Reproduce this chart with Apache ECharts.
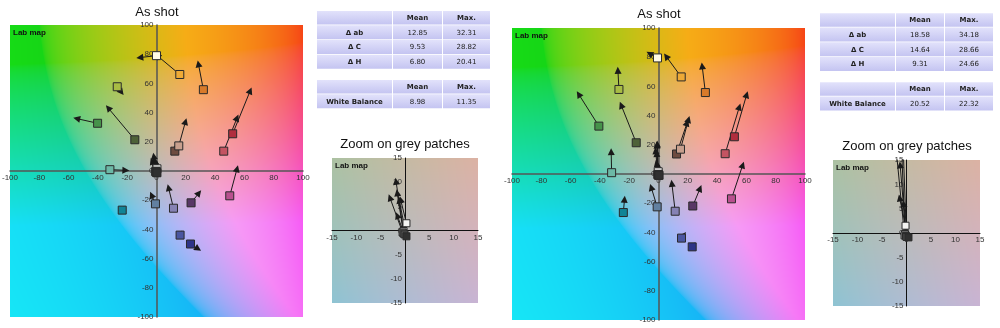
<!DOCTYPE html>
<html>
<head>
<meta charset="utf-8">
<script src="https://cdn.jsdelivr.net/npm/echarts@6/dist/echarts.min.js"></script>
<style>
html,body{margin:0;padding:0;background:#fff;}
#chart{width:1000px;height:328px;}
</style>
</head>
<body>
<div id="chart"></div>
<script>
// ColorChecker patches: names and display colours of the squares
const patchNames = ['Dark skin','Light skin','Blue sky','Foliage','Blue flower','Bluish green',
  'Orange','Purplish blue','Moderate red','Purple','Yellow green','Orange yellow',
  'Blue','Green','Red','Yellow','Magenta','Cyan',
  'White','Neutral 8','Neutral 6.5','Neutral 5','Neutral 3.5','Black'];
const patchColors = ['#6e4c40','#c8a08e','#6280a0','#4e6238','#8682b4','#6cb8a6',
  '#d87a2a','#4a56a0','#c45462','#583866','#a8bc44','#eeaa36',
  '#2e3488','#46924a','#b02e3e','#fffbe6','#b8508e','#108496',
  '#f4f4f2','#c6c6c6','#9e9e9e','#787878','#525252','#303030'];

// Left panel (a*, b*) of the shot patches and of the arrow targets
const leftA    = [12.5, 15.2, -0.7, -14.8, 11.6, -31.8, 32.0, 16.1, 45.9, 23.6, -26.8, 15.9, 23.2, -40.2, 52.0, 0.0, 50.0, -23.4, 0.3, -0.3, -0.5, -0.3, -0.1, 0.3];
const leftB    = [13.6, 17.2, -22.5, 21.4, -25.5, 0.9, 55.7, -43.9, 13.6, -21.8, 57.7, 66.1, -50.0, 32.7, 25.5, 79.0, -17.0, -26.8, 1.5, -0.1, -0.4, -0.6, -0.8, -1.2];
const leftRefA = [15.0, 19.8, -3.4, -33.0, 8.2, -20.9, 28.6, 16.5, 55.0, 29.0, -23.9, 0.5, 28.4, -54.5, 64.0, -11.4, 55.0, -23.0, -0.9, -1.85, -3.1, -1.6, -1.6, -1.2];
const leftRefB = [17.5, 33.9, -16.4, 43.2, -11.4, 0.5, 73.4, -43.0, 36.4, -15.0, 53.9, 79.0, -53.4, 35.9, 55.0, 77.7, 1.6, -26.0, 6.4, 10.2, 6.8, 7.8, 3.1, 6.3];

// Right panel (a*, b*) of the shot patches and of the arrow targets
const rightA    = [12.3, 15.0, -0.9, -15.2, 11.4, -32.0, 32.0, 15.7, 45.5, 23.4, -27.0, 15.5, 23.0, -40.7, 51.8, -0.7, 49.8, -24.0, -0.2, -0.3, -0.4, -0.1, 0.0, 0.4];
const rightB    = [13.7, 17.0, -22.5, 21.4, -25.5, 0.9, 55.8, -43.9, 13.9, -21.9, 57.9, 66.5, -49.9, 32.8, 25.5, 79.5, -17.0, -26.4, 1.5, -0.2, -0.5, -0.6, -0.8, -0.9];
const rightRefA = [19.5, 20.5, -5.0, -25.5, 9.1, -32.3, 29.8, 17.3, 55.2, 28.4, -27.7, 5.2, 23.5, -54.5, 60.2, -6.1, 57.5, -23.2, -1.4, -1.1, -2.0, -1.3, -0.8, -0.6];
const rightRefB = [35.0, 37.4, -9.1, 47.2, -6.4, 15.3, 74.0, -41.7, 46.0, -9.8, 71.0, 80.6, -49.0, 54.7, 54.4, 82.5, 6.2, -17.3, 7.2, 19.8, 16.0, 14.0, 20.5, 6.0];

// Index of the first grey patch
const greyStart = 18;

// Statistics tables
const statCols = ['Mean', 'Max.'];
const deltaRows = ['Δ ab', 'Δ C', 'Δ H'];
const wbRow = 'White Balance';
const leftDeltaMean = [12.85, 9.53, 6.80];
const leftDeltaMax  = [32.31, 28.82, 20.41];
const leftWB        = [8.98, 11.35];
const rightDeltaMean = [18.58, 14.64, 9.31];
const rightDeltaMax  = [34.18, 28.66, 24.66];
const rightWB        = [20.52, 22.32];

const titleMain = 'As shot';
const titleZoom = 'Zoom on grey patches';
const mapLabel = 'Lab map';

// Lab to sRGB, clipped and slightly softened, for the background map
function labToRgb(L, a, b) {
  const fy = (L + 16) / 116, fx = fy + a / 500, fz = fy - b / 200;
  const d = 6 / 29;
  const inv = t => t > d ? t * t * t : 3 * d * d * (t - 4 / 29);
  const X = 0.95047 * inv(fx), Y = inv(fy), Z = 1.08883 * inv(fz);
  let r = 3.2406 * X - 1.5372 * Y - 0.4986 * Z;
  let g = -0.9689 * X + 1.8758 * Y + 0.0415 * Z;
  let bb = 0.0557 * X - 0.2040 * Y + 1.0570 * Z;
  const gam = v => {
    v = Math.max(0, Math.min(1, v));
    return v <= 0.0031308 ? 12.92 * v : 1.055 * Math.pow(v, 1 / 2.4) - 0.055;
  };
  const grey = 0.72, mix = 0.12;
  return [r, g, bb].map(v => ((1 - mix) * gam(v) + mix * grey) * 255);
}

function labMap(w, h, range, L) {
  const c = document.createElement('canvas');
  c.width = w; c.height = h;
  const ctx = c.getContext('2d');
  const img = ctx.createImageData(w, h);
  for (let y = 0; y < h; y++) {
    for (let x = 0; x < w; x++) {
      const a = -range + (x + 0.5) / w * 2 * range;
      const b = range - (y + 0.5) / h * 2 * range;
      const rgb = labToRgb(L, a, b);
      const i = (y * w + x) * 4;
      img.data[i] = rgb[0]; img.data[i + 1] = rgb[1]; img.data[i + 2] = rgb[2]; img.data[i + 3] = 255;
    }
  }
  ctx.putImageData(img, 0, 0);
  return c;
}

const panels = [
  { grid: { left: 10, top: 25, width: 293, height: 292 }, range: 100, step: 20, A: leftA, B: leftB, RA: leftRefA, RB: leftRefB, from: 0, sym: 8, main: true },
  { grid: { left: 512, top: 28, width: 293, height: 292 }, range: 100, step: 20, A: rightA, B: rightB, RA: rightRefA, RB: rightRefB, from: 0, sym: 8, main: true },
  { grid: { left: 332, top: 158, width: 146, height: 145 }, range: 15, step: 5, A: leftA, B: leftB, RA: leftRefA, RB: leftRefB, from: greyStart, sym: 7, main: false },
  { grid: { left: 833, top: 160, width: 147, height: 146 }, range: 15, step: 5, A: rightA, B: rightB, RA: rightRefA, RB: rightRefB, from: greyStart, sym: 7, main: false }
];

const grids = [], xAxes = [], yAxes = [], series = [], graphics = [];
const labelFont = { fontFamily: 'Liberation Sans, Arial, sans-serif', fontSize: 8, color: '#333' };

panels.forEach((p, k) => {
  grids.push(Object.assign({ containLabel: false, outerBoundsMode: 'none' }, p.grid));
  const axisLineStyle = p.main ? { color: '#555', width: 1.5 } : { color: '#111', width: 1 };
  const common = {
    type: 'value', gridIndex: k, min: -p.range, max: p.range, interval: p.step,
    axisLine: { show: true, onZero: false, lineStyle: axisLineStyle },
    axisTick: { show: false }, splitLine: { show: false }, z: 3
  };
  // axes cross at the centre of the grid (a* = 0, b* = 0)
  xAxes.push(Object.assign({}, common, { position: 'bottom', offset: -p.grid.height / 2, axisLabel: Object.assign({ margin: 3 }, labelFont) }));
  yAxes.push(Object.assign({}, common, { position: 'left', offset: -p.grid.width / 2, axisLabel: Object.assign({ margin: 3 }, labelFont) }));

  // background colour map
  graphics.push({
    type: 'image', left: p.grid.left, top: p.grid.top, z: -1,
    style: { image: labMap(p.grid.width, p.grid.height, p.range, 76), x: 0, y: 0, width: p.grid.width, height: p.grid.height }
  });
  graphics.push({
    type: 'text', left: p.grid.left + 3, top: p.grid.top + 4, z: 1,
    style: { text: mapLabel, font: 'bold 8px "Liberation Sans", Arial, sans-serif', fill: '#111' }
  });

  const arrows = [], squares = [];
  for (let i = p.from; i < p.A.length; i++) {
    arrows.push({ name: patchNames[i], coords: [[p.A[i], p.B[i]], [p.RA[i], p.RB[i]]] });
    squares.push({ name: patchNames[i], value: [p.A[i], p.B[i]], itemStyle: { color: patchColors[i] } });
  }
  series.push({
    type: 'lines', coordinateSystem: 'cartesian2d', xAxisIndex: k, yAxisIndex: k, clip: true,
    symbol: ['none', 'triangle'], symbolSize: 7, z: 4,
    lineStyle: { color: '#1a1a1a', width: 1, opacity: 1, curveness: 0 },
    itemStyle: { color: '#111' },
    data: arrows, silent: true
  });
  series.push({
    type: 'scatter', xAxisIndex: k, yAxisIndex: k, symbol: 'rect', symbolSize: p.sym, z: 5, clip: true,
    itemStyle: { borderColor: '#2a2a2a', borderWidth: 1, opacity: 1 },
    data: squares, silent: true
  });
});

// Chart titles
[[157, 12, titleMain], [659, 14, titleMain], [405, 144, titleZoom], [907, 146, titleZoom]].forEach(t => {
  graphics.push({
    type: 'text', x: t[0], y: t[1], z: 1,
    style: { text: t[2], font: '13px "Liberation Sans", Arial, sans-serif', fill: '#111', textAlign: 'center', textVerticalAlign: 'middle' }
  });
});

// Statistics tables
const cellFill = { type: 'linear', x: 0, y: 0, x2: 0, y2: 1, colorStops: [{ offset: 0, color: '#e2e2fb' }, { offset: 1, color: '#c4c4f1' }] };
function cell(x, y, w, h, text, bold) {
  graphics.push({ type: 'rect', shape: { x: x, y: y, width: w, height: h }, style: { fill: cellFill }, z: 1 });
  if (text !== '') {
    graphics.push({
      type: 'text', x: x + w / 2, y: y + h / 2 + 0.5, z: 2,
      style: { text: text, font: (bold ? 'bold ' : '') + '7px "DejaVu Sans", Verdana, sans-serif', fill: '#222', textAlign: 'center', textVerticalAlign: 'middle' }
    });
  }
}
function tables(x0, y0, widths, mean, max, wb) {
  const xs = [x0, x0 + widths[0] + 1, x0 + widths[0] + widths[1] + 2];
  const rowH = 14, step = 14.7;
  cell(xs[0], y0, widths[0], 13.5, '', true);
  statCols.forEach((c, j) => cell(xs[j + 1], y0, widths[j + 1], 13.5, c, true));
  deltaRows.forEach((r, i) => {
    const y = y0 + 14.3 + i * step;
    cell(xs[0], y, widths[0], rowH, r, true);
    cell(xs[1], y, widths[1], rowH, mean[i].toFixed(2), false);
    cell(xs[2], y, widths[2], rowH, max[i].toFixed(2), false);
  });
  const y2 = y0 + 69;
  cell(xs[0], y2, widths[0], 13.5, '', true);
  statCols.forEach((c, j) => cell(xs[j + 1], y2, widths[j + 1], 13.5, c, true));
  cell(xs[0], y2 + 14.3, widths[0], rowH, wbRow, true);
  cell(xs[1], y2 + 14.3, widths[1], rowH, wb[0].toFixed(2), false);
  cell(xs[2], y2 + 14.3, widths[2], rowH, wb[1].toFixed(2), false);
}
tables(317, 11, [75, 49, 47], leftDeltaMean, leftDeltaMax, leftWB);
tables(820, 13.3, [75, 48, 48], rightDeltaMean, rightDeltaMax, rightWB);

const chart = echarts.init(document.getElementById('chart'), null, { renderer: 'canvas' });
chart.setOption({
  animation: false,
  backgroundColor: '#fff',
  grid: grids,
  xAxis: xAxes,
  yAxis: yAxes,
  series: series,
  graphic: { elements: graphics }
});
</script>
</body>
</html>
